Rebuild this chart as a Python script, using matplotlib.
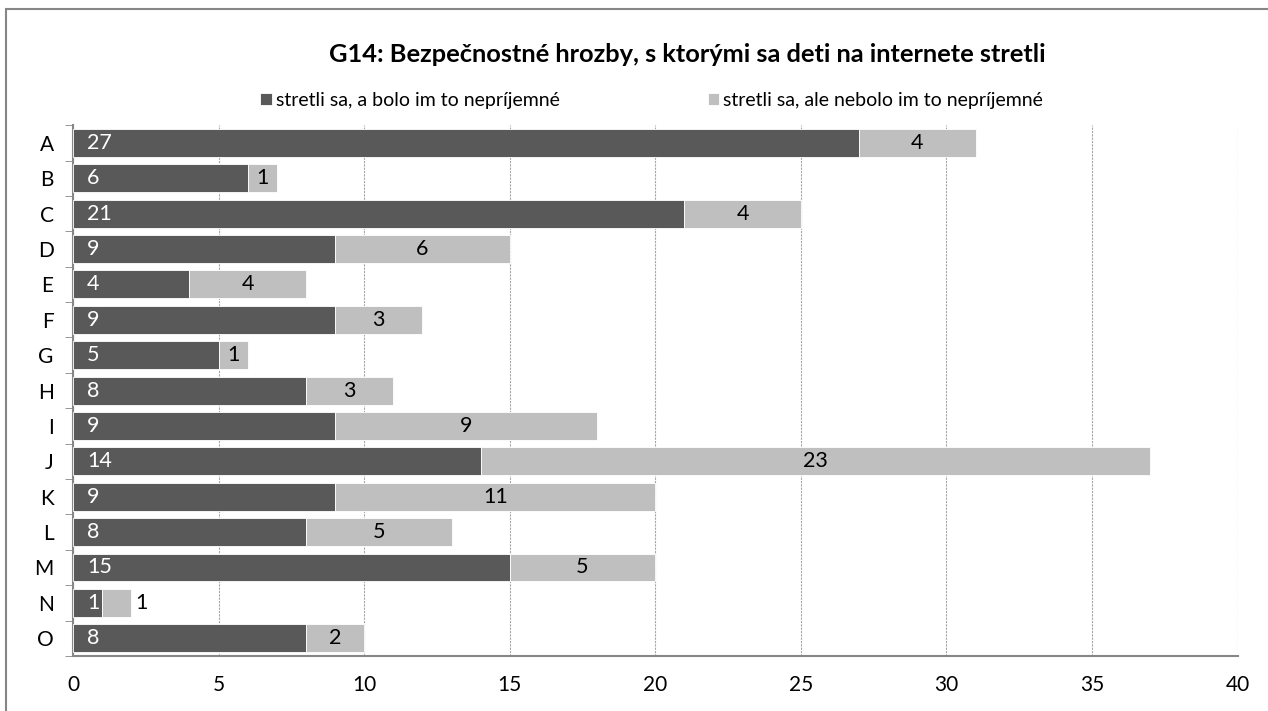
import numpy as np
import matplotlib.pyplot as plt
from matplotlib.patches import Rectangle

# Data
categories = ['A', 'B', 'C', 'D', 'E', 'F', 'G', 'H', 'I', 'J', 'K', 'L', 'M', 'N', 'O']
unpleasant = [27, 6, 21, 9, 4, 9, 5, 8, 9, 14, 9, 8, 15, 1, 8]
not_unpleasant = [4, 1, 4, 6, 4, 3, 1, 3, 9, 23, 11, 5, 5, 1, 2]
series_names = ['stretli sa, a bolo im to nepríjemné',
                'stretli sa, ale nebolo im to nepríjemné']
title = 'G14: Bezpečnostné hrozby, s ktorými sa deti na internete stretli'

plt.rcParams['font.family'] = ['Lato', 'DejaVu Sans']
plt.rcParams['font.size'] = 15

dark = '#595959'
light = '#bfbfbf'

fig = plt.figure(figsize=(12.68, 7.11), dpi=100)
ax = fig.add_axes([0.0576, 0.0774, 0.9184, 0.7466])

y = np.arange(len(categories))
b1 = ax.barh(y, unpleasant, height=0.79, color=dark, edgecolor='white', linewidth=0.6,
             zorder=3, label=series_names[0])
b2 = ax.barh(y, not_unpleasant, left=unpleasant, height=0.79, color=light, edgecolor='white',
             linewidth=0.6, zorder=3, label=series_names[1])

# data labels
for i in range(len(categories)):
    ax.annotate(str(unpleasant[i]), (0, y[i]), xytext=(10, 0), textcoords='offset points',
                ha='left', va='center', color='white', fontsize=15.5, zorder=4)
    total = unpleasant[i] + not_unpleasant[i]
    if total >= 3:
        ax.text(unpleasant[i] + not_unpleasant[i] / 2, y[i], str(not_unpleasant[i]),
                ha='center', va='center', color='black', fontsize=15.5, zorder=4)
    else:
        ax.annotate(str(not_unpleasant[i]), (total, y[i]),
                    xytext=(3, 0), textcoords='offset points',
                    ha='left', va='center', color='black', fontsize=15.5, zorder=4)

ax.set_xlim(0, 40)
ax.set_ylim(len(categories) - 0.5, -0.5)
ax.set_xticks(np.arange(0, 41, 5))
ax.set_yticks(y)
ax.set_yticklabels(categories)
ax.set_yticks(np.arange(-0.5, len(categories), 1), minor=True)
ax.tick_params(axis='y', which='major', length=0, pad=14)
ax.tick_params(axis='y', which='minor', length=6, color='#868686', direction='out')
ax.tick_params(axis='x', length=0, pad=14)

ax.grid(axis='x', linestyle=(0, (2, 1)), color='#a6a6a6', linewidth=0.8, zorder=0)
for s in ['top', 'right']:
    ax.spines[s].set_visible(False)
for s in ['left', 'bottom']:
    ax.spines[s].set_color('#868686')
    ax.spines[s].set_linewidth(1.5)

fig.text(0.542, 0.924, title, ha='center', va='center', fontsize=18.3, fontweight='bold')
fig.legend(handles=[b1, b2], loc='center', bbox_to_anchor=(0.514, 0.859), ncol=2,
           frameon=False, handlelength=0.6, handleheight=0.6, handletextpad=0.2,
           columnspacing=7.6, fontsize=14)

# chart area border
fig.patches.append(Rectangle((6 / 1268, -0.1), 1.2, 1 - 9 / 711 + 0.1, transform=fig.transFigure,
                             fill=False, edgecolor='#868686', linewidth=1.5))

fig.savefig('out.png', dpi=100)
